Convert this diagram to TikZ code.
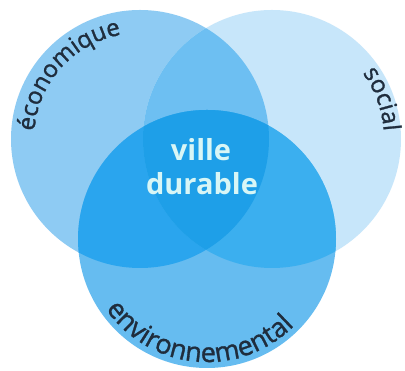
\documentclass[tikz,border=0pt]{standalone}
\usepackage{fontspec}
\setmainfont{Open Sans}
\newfontfamily\labfont[FakeBold=1.2]{Open Sans}
\usetikzlibrary{decorations.text}
\definecolor{cL}{HTML}{8ECBF3}
\definecolor{cR}{HTML}{C7E6FA}
\definecolor{cB}{HTML}{66BCF0}
\definecolor{cLR}{HTML}{6DBFF2}
\definecolor{cLB}{HTML}{2AA5EE}
\definecolor{cRB}{HTML}{3BAFEF}
\definecolor{cLRB}{HTML}{1E9FE8}
\definecolor{labcol}{HTML}{1F2D3D}
\definecolor{centcol}{HTML}{D8F6F6}
\newcommand{\lbfmt}{\labfont\fontsize{24}{28}\selectfont\color{labcol}}
\newcommand{\lbfmtbig}{\labfont\fontsize{27}{30}\selectfont\color{labcol}}
\tikzset{
  arclabel/.style={decorate, decoration={text along path, text align=center, text={|\lbfmt|#1}}},
  arclabelbig/.style={decorate, decoration={text along path, text align=center, text={|\lbfmtbig|#1}}},
  centtext/.style={font=\bfseries\fontsize{29}{32}\selectfont, text=centcol, inner sep=0pt}
}
\begin{document}
\begin{tikzpicture}[x=1pt,y=1pt]
\useasboundingbox (0,0) rectangle (405,371);
\fill[white] (0,0) rectangle (405,371);
\coordinate (L) at (140,232);
\coordinate (R) at (272,232);
\coordinate (B) at (207,132);
\def\rad{129}
\fill[cL] (L) circle[radius=\rad];
\fill[cR] (R) circle[radius=\rad];
\fill[cB] (B) circle[radius=\rad];
\begin{scope}
  \clip (L) circle[radius=\rad];
  \fill[cLR] (R) circle[radius=\rad];
  \fill[cLB] (B) circle[radius=\rad];
\end{scope}
\begin{scope}
  \clip (R) circle[radius=\rad];
  \fill[cRB] (B) circle[radius=\rad];
\end{scope}
\begin{scope}
  \clip (L) circle[radius=\rad];
  \clip (R) circle[radius=\rad];
  \fill[cLRB] (B) circle[radius=\rad];
\end{scope}
\path[arclabel={économique}] ([shift={(190:106)}]L) arc[start angle=190, end angle=86, radius=106];
\path[arclabel={social}] ([shift={(60:112)}]R) arc[start angle=60, end angle=-20, radius=112];
\path[arclabelbig={environnemental}] ([shift={(190:123)}]B) arc[start angle=190, end angle=340, radius=123];
\node[centtext] (ville) at (201,221) {ville};
\node[centtext] (durable) at (202,187) {durable};
\end{tikzpicture}
\end{document}
